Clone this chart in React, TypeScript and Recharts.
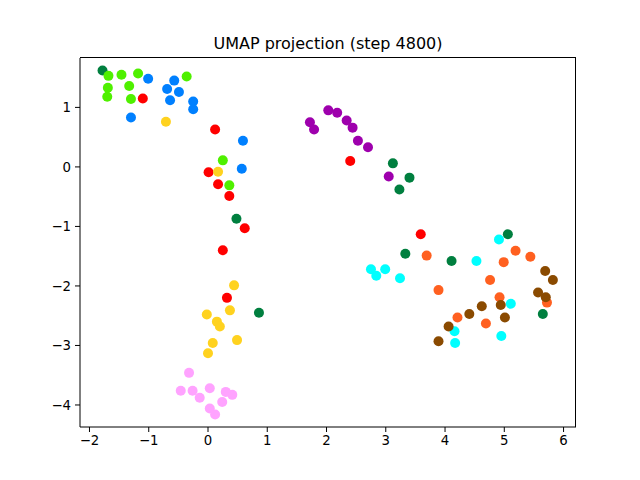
import { ScatterChart, Scatter, XAxis, YAxis } from "recharts";

// cluster points (x, y pairs per cluster)
const darkGreenX = [-1.78, 0.48, 0.86, 3.12, 3.4, 3.23, 5.06, 3.33, 4.11, 5.65];
const darkGreenY = [1.62, -0.87, -2.45, 0.06, -0.18, -0.38, -1.13, -1.46, -1.58, -2.47];

const lightGreenX = [-1.68, -1.46, -1.18, -0.36, -1.69, -1.7, -1.33, -1.3, 0.25, 0.36];
const lightGreenY = [1.53, 1.55, 1.57, 1.52, 1.33, 1.18, 1.36, 1.14, 0.11, -0.31];

const blueX = [-1.01, -0.57, -0.69, -0.49, -0.64, -0.25, -0.25, -1.3, 0.59, 0.57];
const blueY = [1.48, 1.45, 1.31, 1.26, 1.12, 1.1, 0.97, 0.83, 0.44, -0.03];

const redX = [-1.1, 0.12, 0.01, 0.17, 0.36, 0.62, 0.25, 0.32, 2.4, 3.59];
const redY = [1.15, 0.63, -0.09, -0.29, -0.49, -1.03, -1.4, -2.2, 0.1, -1.13];

const yellowX = [-0.71, 0.17, 0.44, 0.37, -0.02, 0.15, 0.2, 0.08, 0.49, 0.0];
const yellowY = [0.76, -0.08, -1.99, -2.41, -2.48, -2.6, -2.68, -2.96, -2.91, -3.13];

const purpleX = [1.72, 1.79, 2.03, 2.18, 2.34, 2.44, 2.53, 2.7, 3.05];
const purpleY = [0.75, 0.63, 0.95, 0.91, 0.78, 0.66, 0.44, 0.33, -0.16];

const cyanX = [4.91, 4.53, 2.75, 2.99, 2.84, 3.24, 5.11, 4.16, 4.95, 4.17];
const cyanY = [-1.22, -1.58, -1.72, -1.72, -1.83, -1.87, -2.3, -2.76, -2.84, -2.96];

const orangeX = [3.69, 5.19, 5.44, 4.99, 4.76, 3.89, 5.72, 4.92, 4.21, 4.69];
const orangeY = [-1.49, -1.41, -1.51, -1.6, -1.9, -2.07, -2.28, -2.19, -2.53, -2.63];

const brownX = [5.69, 5.82, 5.57, 5.7, 4.94, 4.62, 4.41, 5.01, 4.06, 3.89];
const brownY = [-1.75, -1.9, -2.11, -2.19, -2.32, -2.34, -2.47, -2.53, -2.68, -2.93];

const pinkX = [-0.32, -0.46, -0.26, -0.14, 0.03, 0.3, 0.41, 0.24, 0.03, 0.12];
const pinkY = [-3.46, -3.76, -3.76, -3.88, -3.72, -3.78, -3.83, -3.95, -4.06, -4.16];

const xTicks = [-2, -1, 0, 1, 2, 3, 4, 5, 6];
const yTicks = [-4, -3, -2, -1, 0, 1];

const toPoints = (xs: number[], ys: number[]) => xs.map((x, i) => ({ x, y: ys[i] }));

const series = [
  { name: "c0", color: "#007f3f", data: toPoints(darkGreenX, darkGreenY) },
  { name: "c1", color: "#4ff000", data: toPoints(lightGreenX, lightGreenY) },
  { name: "c2", color: "#0080ff", data: toPoints(blueX, blueY) },
  { name: "c3", color: "#ff0000", data: toPoints(redX, redY) },
  { name: "c4", color: "#ffd21f", data: toPoints(yellowX, yellowY) },
  { name: "c5", color: "#9e00ad", data: toPoints(purpleX, purpleY) },
  { name: "c6", color: "#00ffff", data: toPoints(cyanX, cyanY) },
  { name: "c7", color: "#ff6020", data: toPoints(orangeX, orangeY) },
  { name: "c8", color: "#8a4a00", data: toPoints(brownX, brownY) },
  { name: "c9", color: "#ffa3ff", data: toPoints(pinkX, pinkY) },
];

const fmt = (v: number) => String(v).replace("-", "\u2212");
const tickStyle = { fill: "#000", fontSize: 13.3, fontFamily: "DejaVu Sans" };

const App = () => {
  return (
    <div style={{ position: "absolute", left: 0, top: 0, width: 640, height: 480, background: "#fff" }}>
      <div
        style={{
          position: "absolute",
          left: 80,
          top: 34,
          width: 496,
          textAlign: "center",
          fontFamily: "DejaVu Sans",
          fontSize: 16,
          lineHeight: "20px",
          color: "#000",
        }}
      >
        UMAP projection (step 4800)
      </div>
      <ScatterChart width={640} height={480} margin={{ top: 58, right: 64, bottom: 23, left: 0 }}>
        <XAxis
          dataKey="x"
          type="number"
          domain={[-2.16, 6.21]}
          ticks={xTicks}
          tickFormatter={fmt}
          tick={tickStyle}
          tickSize={5}
          tickMargin={4}
          height={30}
          stroke="#000"
          allowDataOverflow
        />
        <YAxis
          dataKey="y"
          type="number"
          domain={[-4.37, 1.83]}
          ticks={yTicks}
          tickFormatter={fmt}
          tick={tickStyle}
          tickSize={5}
          tickMargin={4}
          width={80}
          stroke="#000"
          allowDataOverflow
        />
        {series.map((s) => (
          <Scatter
            key={s.name}
            name={s.name}
            data={s.data}
            fill={s.color}
            isAnimationActive={false}
            shape={(p: any) => <circle cx={p.cx} cy={p.cy} r={5} fill={s.color} />}
          />
        ))}
      </ScatterChart>
      {/* top and right spines of the axes frame */}
      <div
        style={{
          position: "absolute",
          left: 80,
          top: 57,
          width: 496,
          height: 370,
          boxSizing: "border-box",
          borderTop: "1px solid #000",
          borderRight: "1px solid #000",
          pointerEvents: "none",
        }}
      />
    </div>
  );
};

export default App;
